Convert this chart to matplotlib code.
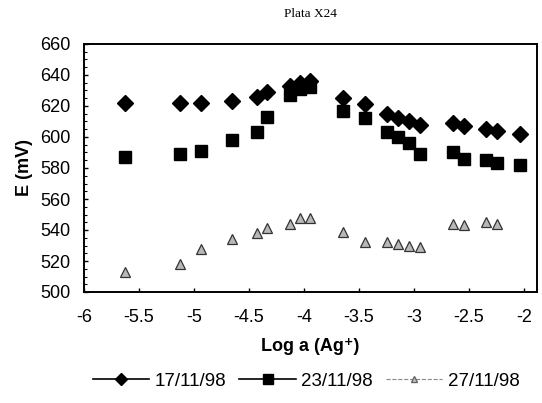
import matplotlib.pyplot as plt
from matplotlib.lines import Line2D
from matplotlib.ticker import AutoMinorLocator

# log a(Ag+) values
log_a = [-5.63, -5.13, -4.94, -4.65, -4.43, -4.34, -4.13, -4.04, -3.95,
         -3.65, -3.45, -3.25, -3.15, -3.05, -2.95, -2.65, -2.55, -2.35,
         -2.25, -2.04]
e_1711 = [622, 622, 622, 623, 626, 629, 633, 635, 636,
          625, 621, 615, 612, 610, 608, 609, 607, 605, 604, 602]
e_2311 = [587, 589, 591, 598, 603, 613, 627, 631, 632,
          617, 612, 603, 600, 596, 589, 590, 586, 585, 583, 582]
log_a_27 = log_a[:-1]
e_2711 = [513, 518, 528, 534, 538, 541, 544, 548, 548,
          539, 532, 532, 531, 530, 529, 544, 543, 545, 544]

labels = ["17/11/98", "23/11/98", "27/11/98"]
xticks = [-6, -5.5, -5, -4.5, -4, -3.5, -3, -2.5, -2]
yticks = list(range(500, 661, 20))

plt.rcParams['font.family'] = ['Liberation Sans', 'DejaVu Sans']

fig = plt.figure(figsize=(5.42, 4.03), dpi=100)
ax = fig.add_axes([84 / 542, 1 - 292 / 403, 453 / 542, 248 / 403])

ax.plot(log_a, e_1711, linestyle='none', marker='D', markersize=8.5,
        color='black')
ax.plot(log_a, e_2311, linestyle='none', marker='s', markersize=9,
        color='black')
ax.plot(log_a_27, e_2711, linestyle='none', marker='^', markersize=6.5,
        markerfacecolor='#b8b8b8', markeredgecolor='#333333',
        markeredgewidth=0.9)

ax.set_xlim(-6, -6 + 453 / 110)
ax.set_ylim(500, 660)
ax.set_xticks(xticks)
ax.set_xticklabels([f"{t:g}" for t in xticks])
ax.set_yticks(yticks)
ax.yaxis.set_minor_locator(AutoMinorLocator(4))
ax.tick_params(direction='in', length=3, width=1, labelsize=13)
ax.tick_params(which='minor', direction='in', length=2, width=0.8)
ax.tick_params(axis='y', pad=10)
ax.tick_params(axis='x', pad=12)
for s in ax.spines.values():
    s.set_linewidth(1.4)

ax.set_ylabel("E (mV)", fontsize=13, fontweight='bold', labelpad=5)
ax.set_xlabel("Log a (Ag\u207a)", fontsize=13, fontweight='bold',
              labelpad=9)
fig.text(0.572, 1 - 14 / 403, "Plata X24", ha='center', va='center',
         fontsize=9.5, family=['Liberation Serif', 'DejaVu Serif'])

handles = [
    Line2D([], [], color='black', lw=1.2, marker='D', markersize=6),
    Line2D([], [], color='black', lw=1.2, marker='s', markersize=7),
    Line2D([], [], color='#888888', lw=0.8, ls='--', marker='^',
           markersize=4, markerfacecolor='#c8c8c8',
           markeredgecolor='#666666'),
]
fig.legend(handles, labels, loc='center', ncol=3,
           bbox_to_anchor=(0.565, 1 - 381 / 403), frameon=False,
           fontsize=13.5, handlelength=3.0, handletextpad=0.3,
           columnspacing=0.7)

fig.savefig("out.png", dpi=100)
